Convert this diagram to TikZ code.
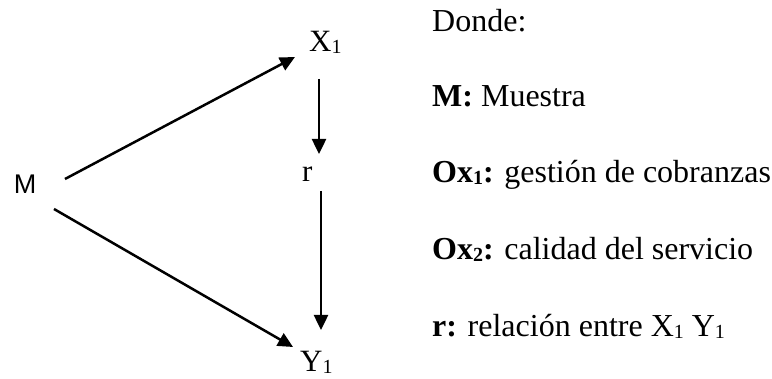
\documentclass[tikz,border=0pt]{standalone}
\usepackage{fontspec}
\setmainfont{Liberation Serif}
\newfontfamily\arialfont{Liberation Sans}
\usetikzlibrary{arrows.meta}
\newcommand\subi[1]{\raisebox{-2pt}{\fontsize{20}{20}\selectfont #1}}

\begin{document}
\begin{tikzpicture}[
  x=1pt, y=1pt,
  every node/.style={inner sep=0pt, font=\fontsize{32}{38}\selectfont},
  var/.style={anchor=base west, font=\fontsize{31}{36}\selectfont},
  leyenda/.style={anchor=base west},
  arr/.style={line width=2.5pt, -{Triangle[length=15pt, width=14pt]}}
]
  \useasboundingbox (0,0) rectangle (772,379);

  % diagrama
  \node[font=\arialfont\fontsize{27}{32}\selectfont] (M) at (25,195) {M};
  \node[var] (X) at (309,327.5) {X\subi{1}};
  \node[var] (r) at (302,197) {r};
  \node[var] (Y) at (300,7) {Y\subi{1}};

  \draw[arr] ([shift={(40,5)}]M.center) -- ([shift={(-14,-5.5)}]X.base west);
  \draw[arr] ([shift={(29,-25)}]M.center) -- ([shift={(-7,25)}]Y.base west);
  \draw[arr] ([shift={(10,-27.5)}]X.base west) -- ([shift={(17,28)}]r.base west);
  \draw[arr] ([shift={(19,-9)}]r.base west) -- ([shift={(21,42)}]Y.base west);

  % leyenda
  \node[leyenda] (donde) at (432,347) {Donde:};
  \node[leyenda] (lm) at (432,272) {\textbf{M:} Muestra};
  \node[leyenda] (lox1) at (432,196) {\textbf{Ox\subi{1}:} gestión de cobranzas};
  \node[leyenda] (lox2) at (432,119) {\textbf{Ox\subi{2}:} calidad del servicio};
  \node[leyenda] (lr) at (432,42) {\textbf{r:} relación entre X\subi{1} Y\subi{1}};
\end{tikzpicture}
\end{document}
